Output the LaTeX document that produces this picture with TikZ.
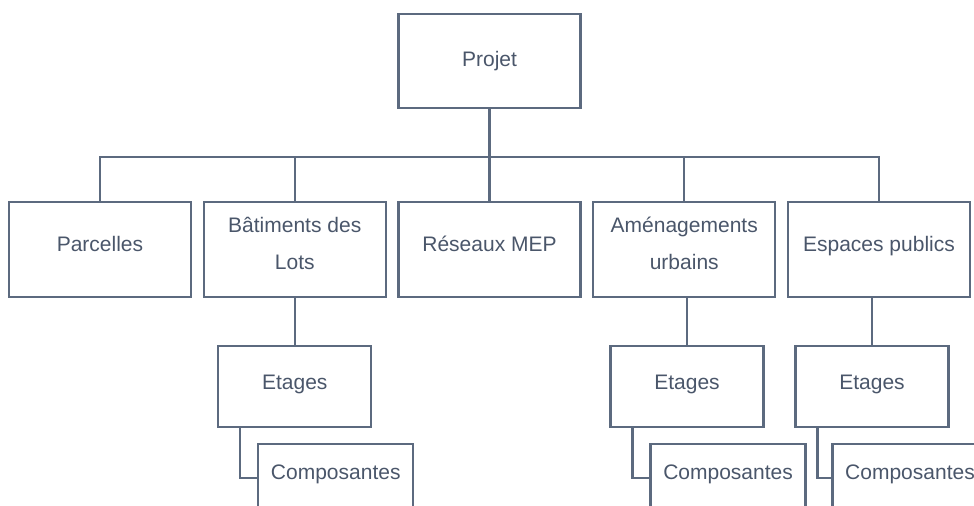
\documentclass[tikz,border=0pt]{standalone}
\usepackage{fontspec}
\setmainfont{Liberation Sans}
\usepackage{xcolor}
\usetikzlibrary{positioning}

\definecolor{boxline}{RGB}{92,106,127}
\definecolor{boxtext}{RGB}{74,86,106}

\tikzset{
    box/.style={draw=boxline, line width=1.2pt, text=boxtext, align=center,
        font=\fontsize{10.5}{18.5}\selectfont, inner sep=0pt, outer sep=0pt},
    textdrop/.style={execute at end node={\rule[-#1]{0pt}{0pt}}},
    topbox/.style={box, minimum width=91pt, minimum height=47pt},
    catbox/.style={box, minimum width=91pt, minimum height=47.5pt, textdrop=6pt},
    floorbox/.style={box, minimum width=76.5pt, minimum height=40.5pt, textdrop=4.5pt},
    partbox/.style={box, minimum width=77.5pt, minimum height=34pt, textdrop=6pt},
    link/.style={draw=boxline, line width=1.2pt}
}

\begin{document}
\begin{tikzpicture}[x=0.5pt, y=-0.5pt, node distance=24.5pt and 6.375pt]
    \useasboundingbox (0,0) rectangle (974,506);
    \clip (0,0) rectangle (974,506);

    % Root node
    \node (projet) [topbox] at (489.5,61) {Projet};

    % Main categories
    \node (parcelles) [catbox] at (100,249.5) {Parcelles};
    \node (batiments) [catbox, right=of parcelles] {Bâtiments des\\Lots};
    \node (reseaux) [catbox, right=of batiments] {Réseaux MEP};
    \node (amenagements) [catbox, right=of reseaux] {Aménagements\\urbains};
    \node (espaces) [catbox, right=of amenagements] {Espaces publics};

    % Floors
    \node (etages1) [floorbox, below=of batiments] {Etages};
    \node (etages2) [floorbox, below=of amenagements, xshift=1.4pt] {Etages};
    \node (etages3) [floorbox, below=of espaces, xshift=-3.5pt] {Etages};

    % Components
    \node (composantes1) [partbox, below right=8.5pt and 20pt of etages1.south west] {Composantes};
    \node (composantes2) [partbox, below right=8.5pt and 20pt of etages2.south west] {Composantes};
    \node (composantes3) [partbox, below right=8.5pt and 18.5pt of etages3.south west] {Composantes};

    % Edges
    \foreach \kid in {parcelles, batiments, reseaux, amenagements, espaces}
        \draw[link] (projet.south) -- ++(0,49) -| (\kid.north);
    \draw[link] (batiments.south) -- (etages1.north);
    \draw[link] (etages2.north) -- (etages2.north |- amenagements.south);
    \draw[link] (etages3.north) -- (etages3.north |- espaces.south);
    \foreach \n in {1,2,3}
        \draw[link] ([xshift=11pt]etages\n.south west) |- (composantes\n.west);
\end{tikzpicture}
\end{document}
